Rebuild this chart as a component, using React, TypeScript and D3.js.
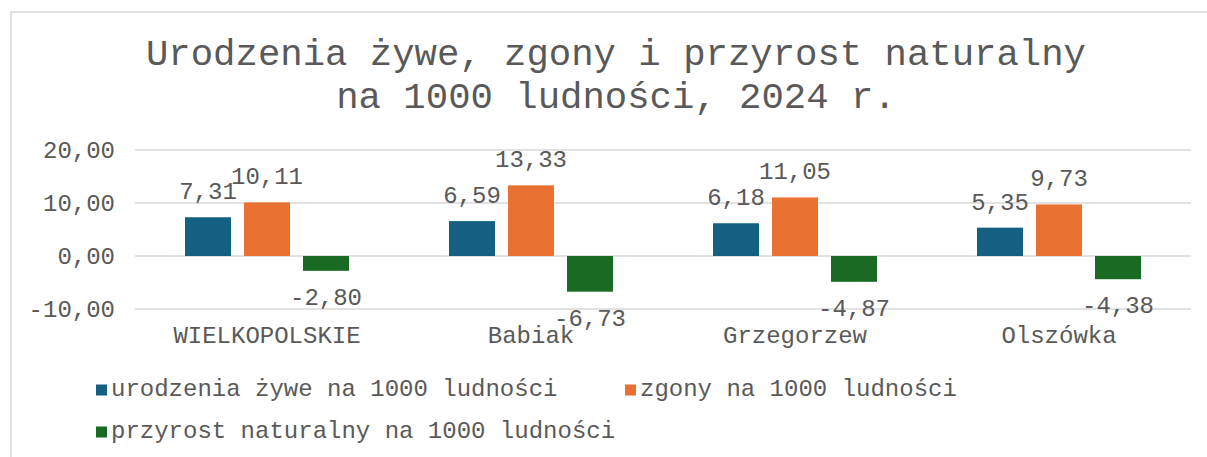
import React from "react";
import * as d3 from "d3";

const categories = ["WIELKOPOLSKIE", "Babiak", "Grzegorzew", "Olszówka"];
const seriesNames = [
  "urodzenia żywe na 1000 ludności",
  "zgony na 1000 ludności",
  "przyrost naturalny na 1000 ludności",
];
const births = [7.31, 6.59, 6.18, 5.35];
const deaths = [10.11, 13.33, 11.05, 9.73];
const growth = [-2.8, -6.73, -4.87, -4.38];
const yTicks = [-10, 0, 10, 20];
const titleLines = ["Urodzenia żywe, zgony i przyrost naturalny", "na 1000 ludności, 2024 r."];
const colors = ["#156082", "#E97132", "#196B24"];

const W = 1207;
const H = 457;
const FONT = "'Courier New', 'Liberation Mono', monospace";
const GREY = "#595959";

const fmt = (v: number) => v.toFixed(2).replace(".", ",");

export default function App() {
  const seriesValues = [births, deaths, growth];
  const x = d3.scaleBand<string>().domain(categories).range([135, 1191]).paddingInner(0).paddingOuter(0);
  const y = d3.scaleLinear().domain([-10, 20]).range([309, 150]);
  const groupW = 164;
  const inner = d3
    .scaleBand<number>()
    .domain([0, 1, 2])
    .range([0, groupW])
    .paddingInner(13 / 59)
    .paddingOuter(0);

  return (
    <svg
      width={W}
      height={H}
      style={{ position: "absolute", left: 0, top: 0, background: "#fff" }}
      fontFamily={FONT}
    >
      <rect x={11} y={12} width={1300} height={600} fill="#fff" stroke="#d9d9d9" strokeWidth={1.5} />
      {titleLines.map((t, i) => (
        <text key={i} x={616} y={65 + i * 42.5} textAnchor="middle" fontSize={37.3} fill={GREY}>
          {t}
        </text>
      ))}
      {yTicks.map((t) => (
        <g key={t}>
          <line x1={135} x2={1191} y1={y(t)} y2={y(t)} stroke="#d9d9d9" strokeWidth={1.5} />
          <text x={115} y={y(t) + 8} textAnchor="end" fontSize={24} fill={GREY}>
            {fmt(t)}
          </text>
        </g>
      ))}
      {categories.map((c, ci) => {
        const cx = (x(c) as number) + x.bandwidth() / 2;
        const gx = cx - groupW / 2;
        return (
          <g key={c}>
            {seriesValues.map((vals, si) => {
              const v = vals[ci];
              const bx = gx + (inner(si) as number);
              const bw = inner.bandwidth();
              const y0 = y(0);
              const yv = y(v);
              const top = Math.min(y0, yv);
              const h = Math.abs(yv - y0);
              const ly = v >= 0 ? yv - 18 : yv + 34;
              return (
                <g key={si}>
                  <rect x={bx} y={top} width={bw} height={h} fill={colors[si]} />
                  <text x={bx + bw / 2} y={ly} textAnchor="middle" fontSize={24} fill={GREY}>
                    {fmt(v)}
                  </text>
                </g>
              );
            })}
            <text x={cx} y={343} textAnchor="middle" fontSize={24} fill={GREY}>
              {c}
            </text>
          </g>
        );
      })}
      {seriesNames.map((s, i) => {
        const lx = i === 1 ? 625 : 96;
        const ly = i === 2 ? 438 : 396;
        return (
          <g key={s}>
            <rect x={lx} y={ly - 11.5} width={11} height={11} fill={colors[i]} />
            <text x={lx + 15} y={ly} fontSize={24} fill={GREY}>
              {s}
            </text>
          </g>
        );
      })}
    </svg>
  );
}
